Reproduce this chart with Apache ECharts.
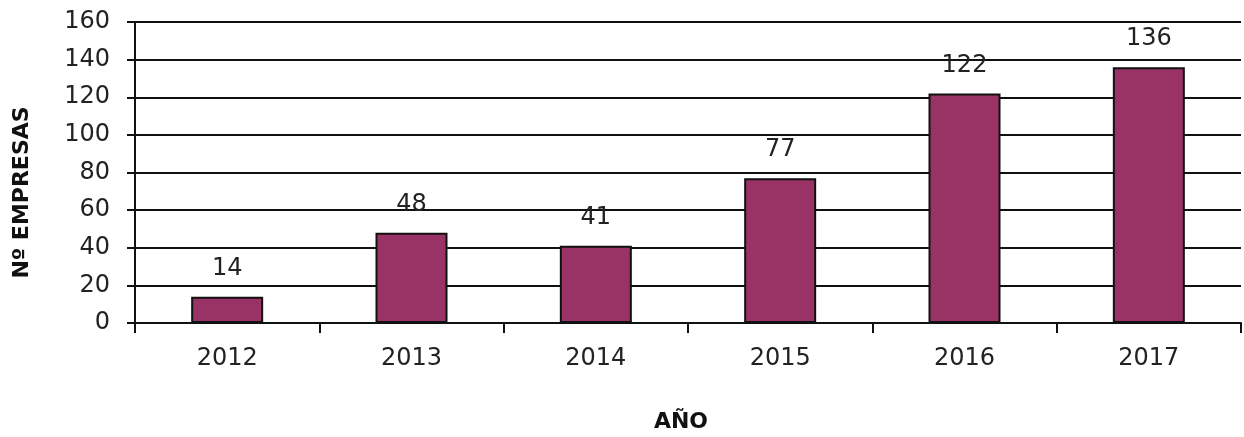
<!DOCTYPE html>
<html>
<head>
<meta charset="utf-8">
<script src="https://cdn.jsdelivr.net/npm/echarts@6/dist/echarts.min.js"></script>
<style>html,body{margin:0;padding:0;background:#fff}#c{width:1244px;height:437px}</style>
</head>
<body>
<div id="c"></div>
<script>
var categories = ['2012', '2013', '2014', '2015', '2016', '2017'];
var empresas = [14, 48, 41, 77, 122, 136];
var yTitle = 'Nº EMPRESAS';
var xTitle = 'AÑO';

var chart = echarts.init(document.getElementById('c'), null, {renderer: 'canvas'});
var font = 'DejaVu Sans';
chart.setOption({
  animation: false,
  backgroundColor: '#ffffff',
  grid: {left: 135, right: 3, top: 22, bottom: 114, containLabel: false, outerBoundsMode: 'none'},
  xAxis: {
    type: 'category',
    data: categories,
    name: xTitle,
    nameLocation: 'middle',
    nameGap: 88,
    nameTextStyle: {fontFamily: font, fontSize: 22, fontWeight: 'bold', color: '#111', padding: [0, 14, 0, 0]},
    axisLine: {lineStyle: {color: '#111', width: 2}},
    axisTick: {show: true, length: 10, lineStyle: {color: '#111', width: 2}},
    axisLabel: {fontFamily: font, fontSize: 24, color: '#222', margin: 24}
  },
  yAxis: {
    type: 'value',
    min: 0, max: 160, interval: 20,
    name: yTitle,
    nameLocation: 'middle',
    nameGap: 102,
    nameTextStyle: {fontFamily: font, fontSize: 22, fontWeight: 'bold', color: '#111', padding: [0, 40, 0, 0]},
    axisLine: {show: true, lineStyle: {color: '#111', width: 2}},
    axisTick: {show: true, length: 8, lineStyle: {color: '#111', width: 2}},
    axisLabel: {fontFamily: font, fontSize: 24, color: '#222', margin: 25},
    splitLine: {show: true, lineStyle: {color: '#111', width: 2}}
  },
  series: [{
    type: 'bar',
    data: empresas,
    barWidth: 72,
    itemStyle: {color: '#993366', borderColor: '#111', borderWidth: 2},
    label: {show: true, position: 'top', distance: 16, fontFamily: font, fontSize: 24, color: '#222'}
  }]
});
</script>
</body>
</html>
